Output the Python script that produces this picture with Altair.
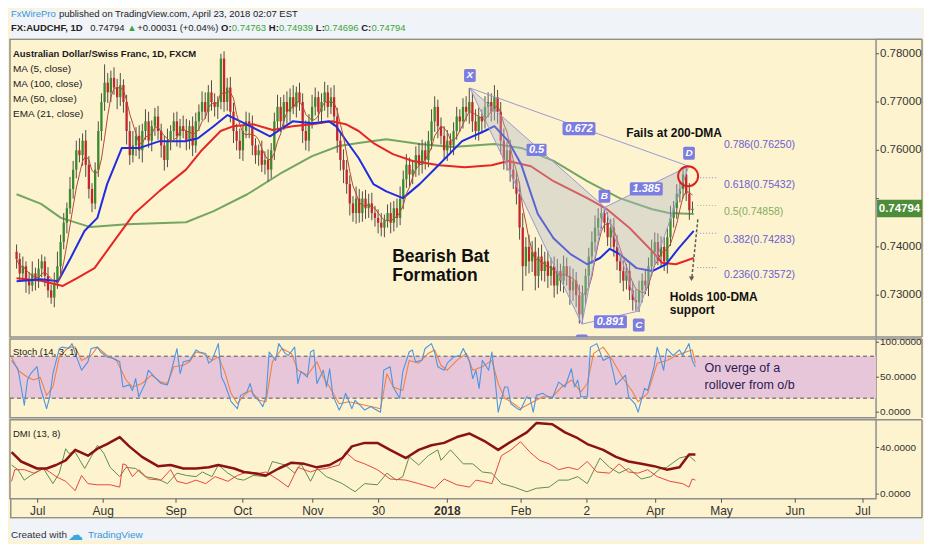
import altair as alt
import pandas as pd

# ---------------- data ----------------
# daily AUD/CHF candles, values in 1e-4 units (pips); FX daily candle opens at prior close
first_open = 7390
closes = [7375,7345,7360,7330,7320,7345,7330,7355,7370,7340,
          7310,7295,7325,7360,7410,7450,7480,7520,7560,7600,
          7590,7620,7570,7520,7490,7560,7640,7700,7740,7720,
          7750,7730,7710,7735,7700,7640,7590,7610,7630,7600,
          7640,7660,7620,7650,7670,7640,7610,7580,7620,7640,
          7660,7630,7650,7640,7620,7650,7610,7660,7680,7700,
          7680,7720,7700,7690,7700,7790,7700,7730,7680,7640,
          7620,7600,7640,7660,7650,7610,7590,7600,7570,7580,
          7560,7600,7660,7690,7660,7700,7680,7710,7690,7720,
          7700,7640,7620,7660,7690,7710,7680,7700,7720,7690,
          7710,7670,7620,7580,7560,7530,7490,7470,7500,7470,
          7500,7480,7490,7470,7460,7450,7440,7455,7470,7450,
          7480,7460,7500,7540,7570,7550,7560,7590,7570,7600,
          7580,7620,7660,7690,7650,7630,7600,7620,7610,7640,
          7670,7660,7690,7680,7700,7660,7640,7670,7660,7690,
          7700,7680,7710,7680,7620,7580,7600,7560,7540,7510,
          7440,7360,7400,7370,7390,7340,7380,7350,7370,7340,
          7360,7320,7350,7330,7360,7340,7310,7330,7300,7260,
          7300,7340,7380,7410,7440,7460,7470,7450,7420,7440,
          7400,7370,7350,7330,7350,7310,7290,7285,7310,7330,
          7320,7360,7390,7410,7380,7400,7370,7420,7460,7480,
          7510,7520,7550,7510,7476,7479]
wick_up = [15,12,20,10,18,25,12,20,14,10, 18,12,22,30,15,20,12,25,18,20,
           25,15,22,18,12,15,20,18,38,20, 15,22,18,25,12,15,20,30,18,22,
           15,25,20,12,18,22,15,20,25,12, 18,20,15,22,25,12,20,18,15,22,
           20,15,25,18,12,10,15,20,22,18, 15,25,12,20,18,22,15,12,20,18,
           22,15,18,25,20,15,22,18,25,12, 20,18,22,15,25,20,12,18,22,15,
           20,25,18,15,22,20,18,15,25,20, 15,18,20,22,15,18,20,12,18,22,
           15,20,25,18,22,15,20,18,25,22, 18,20,25,22,15,18,20,22,15,18,
           20,15,18,22,29,20,25,18,15,22, 20,18,25,15,20,25,18,22,20,18,
           25,30,20,25,22,30,18,25,20,22, 18,20,25,15,22,18,20,25,18,22,
           20,15,18,22,25,20,18,12,22,18, 20,25,18,22,15,20,18,22,20,15,
           22,18,25,20,18,22,20,18,25,15, 20,18,15,17,22,15]
wick_dn = [20,15,12,25,18,12,20,15,18,22, 15,13,20,12,18,15,22,12,20,18,
           15,22,25,20,18,12,15,20,18,22, 20,15,25,18,22,28,20,15,22,18,
           25,18,15,22,20,18,25,22,15,20, 18,22,25,15,20,18,22,15,20,18,
           15,22,18,20,25,15,20,18,22,25, 20,18,22,15,25,20,18,22,15,20,
           25,18,20,15,22,18,25,20,15,22, 18,25,20,22,15,18,20,25,18,22,
           15,20,25,22,28,20,25,18,22,20, 18,22,20,15,18,22,18,20,15,22,
           18,20,15,22,18,25,20,15,22,18, 20,15,18,22,25,18,20,22,15,20,
           18,22,15,20,25,22,18,20,25,15, 22,20,18,25,28,20,22,25,20,22,
           25,51,20,25,22,30,25,20,22,25, 20,25,18,22,25,20,30,22,25,19,
           18,20,22,15,20,18,22,20,18,22, 20,18,25,22,18,20,22,18,20,25,
           18,22,20,25,18,22,20,25,18,20, 22,18,20,15,20,6]

ema21_idx = [0,7.8,13.2,17.2,21.6,25.7,28.8,33.5,39.2,45.5,53.9,57.7,62.7,67.1,71.2,74.3,80.6,87.8,94.0,99.4,
             101.6,105.6,108.8,113.5,117.6,122.9,128.2,134.5,141.7,148.9,152.0,156.4,160.5,165.8,170.8,176.2,
             181.5,185.6,188.7,191.8,197.2,202.2,206.6,210.7,215.4]
ema21_val = [0.7329,0.7333,0.7329,0.7377,0.7433,0.7460,0.7530,0.7605,0.7605,0.7619,0.7619,0.7625,0.7650,0.7673,
             0.7660,0.7650,0.7629,0.7660,0.7656,0.7660,0.7650,0.7613,0.7584,0.7530,0.7515,0.7501,0.7530,0.7571,
             0.7619,0.7640,0.7650,0.7619,0.7571,0.7468,0.7418,0.7385,0.7364,0.7377,0.7396,0.7385,0.7356,0.7350,
             0.7364,0.7398,0.7433]
ma50_idx = [0,7.8,14.7,19.4,24.8,31.0,37.3,45.5,53.9,58.6,64.9,69.0,75.2,81.5,87.8,94.0,100.3,104.7,108.8,113.5,
            119.7,126.0,134.5,142.6,151.1,156.4,163.6,170.8,181.5,187.8,195.0,202.2,205.3,209.7,215.4]
ma50_val = [0.7335,0.7330,0.7319,0.7336,0.7356,0.7412,0.7468,0.7516,0.7560,0.7598,0.7640,0.7650,0.7654,0.7642,
            0.7650,0.7654,0.7660,0.7654,0.7640,0.7615,0.7592,0.7578,0.7569,0.7565,0.7569,0.7578,0.7567,0.7536,
            0.7501,0.7478,0.7439,0.7391,0.7367,0.7364,0.7377]
ma100_idx = [0,7.8,14.1,23.5,35.1,53.9,62.7,73.4,83.7,94.0,102.5,108.8,117.6,128.2,138.6,152.0,160.5,170.8,
             181.5,191.8,202.2,207.5,215.4]
ma100_val = [0.7509,0.7489,0.7460,0.7441,0.7447,0.7451,0.7474,0.7509,0.7551,0.7588,0.7609,0.7615,0.7623,0.7613,
             0.7607,0.7613,0.7605,0.7578,0.7536,0.7501,0.7478,0.7470,0.7468]

stk_idx = [0,2,4,5,6,8,9,11,12,13,15,16,18,19,20,22,24,25,27,28,30,32,34,35,37,38,39,40,42,43,
           45,47,49,50,52,53,54,56,58,59,61,62,63,65,66,67,69,71,72,74,75,76,78,79,80,81,83,84,86,87,
           89,90,91,93,94,95,96,98,99,100,101,103,104,105,107,108,110,111,113,114,116,117,119,120,122,123,
           125,126,127,129,130,132,133,134,136,137,139,141,142,144,145,146,147,148,150,151,152,153,155,156,
           157,159,160,162,163,164,165,167,168,170,172,174,176,177,178,179,181,182,184,186,188,189,190,193,
           194,196,197,199,200,202,203,205,206,208,210,211,213,214,215]
stk_val = [74,62,10,46,55,65,36,5,22,55,91,93,91,98,84,60,72,91,93,86,79,77,72,36,39,31,48,22,41,60,
           50,41,39,55,91,55,72,74,89,86,84,70,74,98,50,41,15,5,24,29,41,24,15,8,22,86,74,98,84,81,
           93,41,58,50,86,89,41,60,36,62,24,3,12,27,5,17,8,3,8,5,0,60,65,36,20,58,86,89,72,74,
           91,98,86,65,60,70,79,81,91,72,48,60,34,74,60,86,48,0,36,36,12,5,3,22,20,0,24,27,24,20,
           43,36,62,36,46,22,22,93,98,74,79,60,39,53,22,12,0,34,31,65,93,60,91,81,89,81,98,74,65]
std_idx = [0,2,5,7,9,11,13,15,18,20,22,25,27,30,33,36,38,41,44,47,49,51,54,56,58,60,63,65,67,69,
           71,73,75,78,80,82,85,88,90,93,96,98,100,103,106,109,113,116,118,120,123,125,128,131,133,135,
           137,140,143,145,148,151,153,155,157,160,164,167,170,173,176,179,181,183,186,189,192,195,197,200,
           203,206,209,212,214,215]
std_val = [79,60,50,46,50,24,36,79,93,93,74,81,93,81,74,46,36,41,53,43,41,65,67,72,86,84,74,79,58,27,
           12,24,31,17,15,72,91,84,60,53,72,50,36,12,15,12,8,5,55,36,31,74,70,84,89,67,60,74,84,60,
           65,74,41,20,15,5,15,22,22,36,46,29,41,84,93,74,50,31,15,27,70,74,81,86,89,70]

adx_idx = [0,3,8,11,14,17,20,24,27,30,34,37,41,46,50,54,58,62,65,70,73,76,80,84,88,92,96,100,104,107,
           111,115,119,124,128,132,136,140,144,149,153,157,162,165,170,174,178,181,186,190,194,198,202,206,
           210,213,215]
adx_val = [36,28,22,22,25,29,38,33,39,43,49,41,32,24,25,22,22,23,25,22,19,18,16,22,27,26,23,25,31,41,
           44,44,38,31,38,42,44,49,52,45,38,45,53,61,60,53,48,43,38,32,28,26,24,21,23,34,34]
pdi_idx = [0,2,4,6,8,10,13,15,17,18,20,23,25,27,29,31,34,36,39,42,46,49,52,55,58,60,63,65,68,71,
           73,76,80,82,86,89,91,94,96,99,104,108,111,115,118,121,123,125,128,131,134,135,138,142,145,148,
           151,154,158,162,165,169,172,175,178,181,185,188,191,194,198,201,204,206,210,213,215]
pdi_val = [25,21,12,16,19,22,9,18,39,35,36,22,32,42,35,23,15,23,22,15,13,9,18,16,15,19,15,25,18,13,
           12,16,15,28,25,18,26,11,22,15,9,2,9,8,18,12,15,32,25,33,38,29,38,26,26,19,18,9,6,2,
           5,6,12,12,15,9,31,23,18,22,13,15,22,23,31,33,28]
mdi_idx = [0,1,4,7,10,12,14,17,20,22,24,27,31,34,35,36,38,40,43,47,50,52,55,58,61,64,68,71,74,78,
           80,84,87,90,94,96,99,103,105,108,111,115,119,124,128,133,136,140,144,146,148,151,154,157,160,163,
           166,169,172,175,178,181,184,188,191,194,197,200,203,207,211,213,214,215]
mdi_val = [11,21,21,18,22,19,15,11,3,16,9,8,8,6,26,25,15,21,13,12,21,11,9,12,9,15,11,16,19,18,
           19,12,6,23,19,21,22,25,36,29,26,21,13,12,9,5,13,8,6,12,11,9,33,38,45,36,29,26,21,23,
           21,28,19,18,26,19,18,21,15,11,9,6,13,12]

month_ticks = [8.2, 28.8, 51.7, 72.7, 94.7, 115.4, 137, 160.2, 180.9, 202.5, 223.2, 246.4, 267.7]
month_labels = ["Jul", "Aug", "Sep", "Oct", "Nov", "30", "2018", "Feb", "2", "Apr", "May", "Jun", "Jul"]
price_ticks = [0.73, 0.74, 0.75, 0.76, 0.77, 0.78]
price_labels = ["0.73000", "0.74000", "", "0.76000", "0.77000", "0.78000"]  # 0.75000 sits under the last-price tag
stoch_ticks = [0, 50, 100]
dmi_ticks = [0, 40]

pat_names = ["X", "A", "B", "C", "D"]
pat_idx = [144.2, 179.8, 187.1, 197.8, 213.8]
pat_val = [0.7729, 0.7240, 0.7482, 0.7267, 0.7567]
pat_label_idx = [144.2, 179.8, 187.0, 197.9, 213.9]
pat_label_val = [0.7755, 0.72053, 0.7505, 0.7238, 0.7594]
ratio_text = ["0.5", "0.672", "1.385", "0.891"]
ratio_idx = [165.4, 178.9, 200.3, 188.9]
ratio_val = [0.7601, 0.7645, 0.7520, 0.7245]

fib_text = ["0.786(0.76250)", "0.618(0.75432)", "0.5(0.74858)", "0.382(0.74283)", "0.236(0.73572)"]
fib_level = [0.7625, 0.75432, 0.74858, 0.74283, 0.73572]
last_price = 0.74794

# ---------------- styling ----------------
SANS = "Liberation Sans, Arial, sans-serif"
CREAM = "#fdf3cf"
OUTER = "#f0f3f7"
FRAME = "#8e8e8e"
AXTXT = "#333333"
UP, DN = "#3c8a2e", "#c4262b"
WICK = "#4e4e48"
PURPLE = "#6a60d0"
FIBGREEN = "#84ad5e"
BOXC = "#7b7de0"
EDGE = "#9b98d8"

W, HP, HS, HD, AXW = 867, 298, 79, 79, 46

xscale = alt.Scale(domain=[-0.5, 271.8], nice=False, zero=False)
pscale = alt.Scale(domain=[0.72135, 0.7830], nice=False, zero=False)
sscale = alt.Scale(domain=[-8.1, 104.7], nice=False, zero=False)
dscale = alt.Scale(domain=[-4.0, 63.8], nice=False, zero=False)

one = pd.DataFrame({"z": [0]})

# Arial / Liberation Sans advance widths (1/1000 em) used to lay out header runs
AW = {" ": 278, ".": 278, ",": 278, ":": 278, "(": 333, ")": 333, "+": 584, "%": 889, "-": 333,
      "/": 278, "▲": 770, "A": 667, "B": 667, "C": 722, "D": 722, "E": 667, "F": 611, "H": 722,
      "L": 556, "M": 833, "O": 778, "P": 667, "S": 667, "T": 611, "U": 722, "V": 667, "W": 944,
      "X": 667, "a": 556, "b": 556, "c": 500, "d": 556, "e": 556, "f": 278, "g": 556, "h": 556,
      "i": 222, "l": 222, "m": 833, "n": 556, "o": 556, "p": 556, "r": 333, "s": 500, "t": 278,
      "u": 556, "v": 500, "w": 722, "y": 500}


def tw(s, size, bold=False):
    return sum(AW.get(ch, 556) for ch in s) / 1000.0 * size * (1.07 if bold else 1.0)


def XQ(field="i"):
    return alt.X(f"{field}:Q", scale=xscale, axis=None)


def crect(x0, x1, y0, y1, color):
    return alt.Chart(one).mark_rect(color=color).encode(
        x=alt.value(x0), x2=alt.value(x1), y=alt.value(y0), y2=alt.value(y1))


def crule(x0, x1, y0, y1, color=FRAME, w=1.5):
    # frame line drawn as a thin unstroked rect so it does not inflate the canvas bounds
    if x0 == x1:
        return crect(x0 - w / 2, x0 + w / 2, y0, y1, color)
    return crect(x0, x1, y0 - w / 2, y0 + w / 2, color)


def ctext(t, x, y, **mk):
    mk.setdefault("align", "left")
    mk.setdefault("baseline", "middle")
    mk.setdefault("font", SANS)
    return alt.Chart(one).mark_text(text=t, **mk).encode(x=alt.value(x), y=alt.value(y))


def line(idx, vals, yscale, color, width):
    d = pd.DataFrame({"i": idx, "v": vals})
    return alt.Chart(d).mark_line(color=color, strokeWidth=width, strokeJoin="round").encode(
        x=XQ(), y=alt.Y("v:Q", scale=yscale, axis=None))


def tlayer(df, yscale, **mk):
    mk.setdefault("font", SANS)
    return alt.Chart(df).mark_text(**mk).encode(
        x=XQ(), y=alt.Y("v:Q", scale=yscale, axis=None), text="t:N")


def yaxis_layers(ticks, labels, yscale, size):
    d = pd.DataFrame({"v": ticks, "t": labels})
    tk = alt.Chart(d).mark_rule(color="#555", strokeWidth=1).encode(
        x=alt.value(W), x2=alt.value(W + 3), y=alt.Y("v:Q", scale=yscale, axis=None))
    tx = alt.Chart(d[d.t != ""]).mark_text(align="left", baseline="middle", font=SANS, fontSize=size,
                                           color=AXTXT).encode(
        x=alt.value(W + 4), y=alt.Y("v:Q", scale=yscale, axis=None), text="t:N")
    return [tk, tx]


def box_path(hw, hh, r):
    return (f"M{-hw + r},{-hh} L{hw - r},{-hh} Q{hw},{-hh} {hw},{-hh + r} L{hw},{hh - r} "
            f"Q{hw},{hh} {hw - r},{hh} L{-hw + r},{hh} Q{-hw},{hh} {-hw},{hh - r} "
            f"L{-hw},{-hh + r} Q{-hw},{-hh} {-hw + r},{-hh} Z")


# ---------------- price panel ----------------
opens = [first_open] + closes[:-1]
rows = []
for k, (o, c, u, d) in enumerate(zip(opens, closes, wick_up, wick_dn)):
    rows.append(dict(i=k, open=o / 1e4, close=c / 1e4,
                     high=(max(o, c) + u) / 1e4, low=(min(o, c) - d) / 1e4,
                     dir="up" if c >= o else "down"))
candles = pd.DataFrame(rows)
ccol = alt.Color("dir:N", scale=alt.Scale(domain=["up", "down"], range=[UP, DN]), legend=None)

wicks = alt.Chart(candles).mark_rule(strokeWidth=1, color=WICK).encode(
    x=XQ(), y=alt.Y("low:Q", scale=pscale, axis=None), y2="high:Q")
bodies = alt.Chart(candles).mark_bar(size=2.3).encode(
    x=XQ(), y=alt.Y("open:Q", scale=pscale, axis=None), y2="close:Q", color=ccol)

ma5 = pd.DataFrame({"i": range(len(closes)),
                    "v": pd.Series(closes).rolling(5, min_periods=1).mean() / 1e4})
ma5_line = alt.Chart(ma5).mark_line(color="#b24a35", strokeWidth=1, strokeJoin="round").encode(
    x=XQ(), y=alt.Y("v:Q", scale=pscale, axis=None))

P = dict(zip(pat_names, zip(pat_idx, pat_val)))
poly = pd.DataFrame([dict(g=g, k=k, i=P[n][0], v=P[n][1])
                     for g, verts in [("XAB", "XABX"), ("BCD", "BCDB")] for k, n in enumerate(verts)])
tri = alt.Chart(poly).mark_line(fill="#b5b9c6", fillOpacity=0.4, stroke=EDGE, strokeWidth=1,
                                strokeJoin="round").encode(
    x=XQ(), y=alt.Y("v:Q", scale=pscale, axis=None), detail="g:N", order="k:Q")
segs = pd.DataFrame([dict(g=g, k=k, i=P[n][0], v=P[n][1])
                     for g in ["XD", "AC"] for k, n in enumerate(g)])
seg = alt.Chart(segs).mark_line(color=EDGE, strokeWidth=1, strokeJoin="round").encode(
    x=XQ(), y=alt.Y("v:Q", scale=pscale, axis=None), detail="g:N", order="k:Q")

lbl = pd.DataFrame({"t": pat_names, "i": pat_label_idx, "v": pat_label_val})
letter_box = alt.Chart(lbl).mark_point(shape=box_path(0.9, 1, 0.25), size=169, filled=True,
                                       color=BOXC, opacity=1, clip=True).encode(
    x=XQ(), y=alt.Y("v:Q", scale=pscale, axis=None))
letter_txt = tlayer(lbl, pscale, color="white", fontSize=10, fontWeight="bold",
                    fontStyle="italic", clip=True)
rat = pd.DataFrame({"t": ratio_text, "i": ratio_idx, "v": ratio_val})
ratio_wide = alt.Chart(rat[rat.t != "0.5"]).mark_point(shape=box_path(1, 0.4, 0.1), size=33 * 33,
                                                       filled=True, color=BOXC, opacity=1).encode(
    x=XQ(), y=alt.Y("v:Q", scale=pscale, axis=None))
ratio_small = alt.Chart(rat[rat.t == "0.5"]).mark_point(shape=box_path(1, 0.62, 0.15), size=20 * 20,
                                                        filled=True, color=BOXC, opacity=1).encode(
    x=XQ(), y=alt.Y("v:Q", scale=pscale, axis=None))
ratio_txt = tlayer(rat, pscale, color="white", fontSize=11, fontWeight="bold", fontStyle="italic")

fib = pd.DataFrame({"t": fib_text, "v": fib_level, "i": [225.0] * 5})
fib_green = fib["t"].str.startswith("0.5(")
fib_txt_p = tlayer(fib[~fib_green], pscale, align="left", baseline="middle", dy=7, fontSize=10.5,
                   color=PURPLE)
fib_txt_g = tlayer(fib[fib_green], pscale, align="left", baseline="middle", dy=7, fontSize=10.5,
                   color=FIBGREEN)
fib_ln = pd.DataFrame({"v": fib_level[1:], "i": [216.5] * 4, "i2": [223.2] * 4})
fib_rule_p = alt.Chart(fib_ln[fib_ln.v != 0.74858]).mark_rule(
    strokeDash=[1, 2], strokeWidth=1, color="#8f88d6").encode(
    x=XQ(), x2="i2:Q", y=alt.Y("v:Q", scale=pscale, axis=None))
fib_rule_g = alt.Chart(fib_ln[fib_ln.v == 0.74858]).mark_rule(
    strokeDash=[1, 2], strokeWidth=1, color="#9bbf7a").encode(
    x=XQ(), x2="i2:Q", y=alt.Y("v:Q", scale=pscale, axis=None))

circ = alt.Chart(pd.DataFrame({"i": [213.6], "v": [0.75465]})).mark_point(
    shape="circle", size=400, filled=False, color="#e0201b", strokeWidth=2, opacity=1).encode(
    x=XQ(), y=alt.Y("v:Q", scale=pscale, axis=None))
arrow = alt.Chart(pd.DataFrame({"i": [216.7], "i2": [214.8], "v": [0.7457], "v2": [0.73362]})).mark_rule(
    strokeDash=[3, 2], color="#5a5a5a", strokeWidth=1.5).encode(
    x=XQ(), x2="i2:Q", y=alt.Y("v:Q", scale=pscale, axis=None), y2="v2:Q")
arrow_head = alt.Chart(pd.DataFrame({"i": [214.7], "v": [0.7334]})).mark_point(
    shape="triangle-down", size=28, filled=True, color="#5a5a5a", opacity=1).encode(
    x=XQ(), y=alt.Y("v:Q", scale=pscale, axis=None))

notes_big = pd.DataFrame({"t": ["Bearish Bat", "Formation"], "i": [119.5, 119.5], "v": [0.73790, 0.73397]})
notes_big_t = tlayer(notes_big, pscale, align="left", baseline="middle", fontSize=17.5,
                     fontWeight="bold", color="#111")
notes = pd.DataFrame({"t": ["Fails at 200-DMA", "Holds 100-DMA", "support"],
                      "i": [193.9, 207.8, 207.8], "v": [0.76362, 0.72969, 0.72688]})
notes_t = tlayer(notes, pscale, align="left", baseline="middle", fontSize=12,
                 fontWeight="bold", color="#111")

last_df = pd.DataFrame({"v": [last_price], "t": ["0.74794"]})
last_box = alt.Chart(last_df).mark_point(
    shape=box_path(1, 0.39, 0.02), size=45 * 45, filled=True, color="#4d8c39", opacity=1).encode(
    x=alt.value(W + 23.5), y=alt.Y("v:Q", scale=pscale, axis=None))
last_txt = alt.Chart(last_df).mark_text(
    color="white", font=SANS, fontSize=11.5, fontWeight="bold").encode(
    x=alt.value(W + 23.5), y=alt.Y("v:Q", scale=pscale, axis=None), text="t:N")

legend_lines = ["Australian Dollar/Swiss Franc, 1D, FXCM", "MA (5, close)", "MA (100, close)",
                "MA (50, close)", "EMA (21, close)"]
legend_layers = [ctext(t, 3, 15 + 15 * k, fontSize=9.5 if k == 0 else 10,
                       fontWeight="bold" if k == 0 else "normal", color="#1a1a1a")
                 for k, t in enumerate(legend_lines)]

# header runs: (text, colour, bold, trailing gap)
GREEN_T = "#3aa53a"
DARK_T = "#222222"
HSIZE = 9.5
header_runs = [
    (-25, [("FxWirePro", "#3a97d4", False, " "),
           ("published on TradingView.com, April 23, 2018 02:07 EST", DARK_T, False, "")]),
    (-11, [("FX:AUDCHF, 1D", DARK_T, True, " "), ("0.74794", DARK_T, False, " "),
           ("▲", GREEN_T, False, " "), ("+0.00031 (+0.04%)", DARK_T, False, " "),
           ("O:", DARK_T, True, ""), ("0.74763", GREEN_T, False, " "),
           ("H:", DARK_T, True, ""), ("0.74939", GREEN_T, False, " "),
           ("L:", DARK_T, True, ""), ("0.74696", GREEN_T, False, " "),
           ("C:", DARK_T, True, ""), ("0.74794", GREEN_T, False, "")]),
]
header_layers = []
for yy, runs in header_runs:
    xx = 1.0
    for t, col, bold, gap in runs:
        header_layers.append(ctext(t, round(xx, 1), yy, fontSize=HSIZE, color=col,
                                   fontWeight="bold" if bold else "normal"))
        xx += tw(t, HSIZE, bold) + tw(gap, HSIZE)

price = alt.layer(
    crect(0, W + AXW + 0.75, -30, -1, OUTER),
    *header_layers,
    crule(W, W + AXW, 0, 0), crule(W + AXW, W + AXW, 0, HP), crule(W, W + AXW, HP, HP),
    *yaxis_layers(price_ticks, price_labels, pscale, 11.5),
    line(ma100_idx, ma100_val, pscale, "#72a662", 2),
    wicks, bodies,
    line(ma50_idx, ma50_val, pscale, "#e62626", 2),
    line(ema21_idx, ema21_val, pscale, "#1f2ce0", 2),
    ma5_line,
    tri, seg,
    ratio_wide, ratio_small, ratio_txt, letter_box, letter_txt,
    fib_rule_p, fib_rule_g, fib_txt_p, fib_txt_g, circ, arrow, arrow_head, notes_big_t, notes_t,
    last_box, last_txt,
    *legend_layers,
).properties(width=W, height=HP)

# ---------------- stochastic panel ----------------
band = alt.Chart(pd.DataFrame({"lo": [20], "hi": [80]})).mark_rect(color="#e7c6da").encode(
    x=alt.value(0), x2=alt.value(W), y=alt.Y("lo:Q", scale=sscale, axis=None), y2="hi:Q")
band_rules = alt.Chart(pd.DataFrame({"v": [20, 80]})).mark_rule(
    strokeDash=[4, 3], color="#555", strokeWidth=1).encode(
    x=alt.value(0), x2=alt.value(W), y=alt.Y("v:Q", scale=sscale, axis=None))
stoch_note = pd.DataFrame({"t": ["On verge of a", "rollover from o/b"], "i": [217.9, 217.9], "v": [63, 39]})
stoch = alt.layer(
    crule(W, W + AXW, 0, 0), crule(W + AXW, W + AXW, 0, HS),
    band, band_rules,
    *yaxis_layers(stoch_ticks, [f"{v:.4f}" for v in stoch_ticks], sscale, 10),
    line(std_idx, std_val, sscale, "#f3823f", 1.1),
    line(stk_idx, stk_val, sscale, "#4d95e0", 1.1),
    ctext("Stoch (14, 3, 1)", 3, 13, fontSize=9.5, color="#1a1a1a"),
    tlayer(stoch_note, sscale, align="left", baseline="middle", fontSize=12.5, color="#2b1a55"),
).properties(width=W, height=HS)

# ---------------- DMI panel ----------------
xt = pd.DataFrame({"i": month_ticks, "t": month_labels})
xt_norm = xt[xt.t != "2018"]
xt_bold = xt[xt.t == "2018"]
x_ticks = alt.Chart(xt).mark_rule(color="#555", strokeWidth=1).encode(
    x=XQ(), y=alt.value(HD), y2=alt.value(HD + 4))
x_lab = alt.Chart(xt_norm).mark_text(baseline="middle", font=SANS, fontSize=12, color=AXTXT).encode(
    x=XQ(), y=alt.value(HD + 12), text="t:N")
x_lab_b = alt.Chart(xt_bold).mark_text(baseline="middle", font=SANS, fontSize=12, fontWeight="bold",
                                       color=AXTXT).encode(
    x=XQ(), y=alt.value(HD + 12), text="t:N")

dmi = alt.layer(
    crule(W, W + AXW, 0, 0), crule(W + AXW, W + AXW, 0, HD + 19),
    crect(0, 1.5, HD, HD + 19, FRAME), crule(0, W + AXW, HD + 19, HD + 19),
    crect(0, W + AXW + 0.75, HD + 20, HD + 42, OUTER),
    *yaxis_layers(dmi_ticks, [f"{v:.4f}" for v in dmi_ticks], dscale, 10),
    x_ticks, x_lab, x_lab_b,
    line(pdi_idx, pdi_val, dscale, "#5f8f46", 1),
    line(mdi_idx, mdi_val, dscale, "#e8463f", 1),
    line(adx_idx, adx_val, dscale, "#8b1212", 2.5),
    ctext("DMI (13, 8)", 3, 14, fontSize=9.5, color="#1a1a1a"),
    ctext("Created with", 1, HD + 36, fontSize=10, color="#333"),
    ctext("☁", 58, HD + 36, font="DejaVu Sans", fontSize=15, color="#3aa7e0"),
    ctext("TradingView", 78, HD + 36, fontSize=10, color="#3a97d4"),
).properties(width=W, height=HD)

chart = alt.vconcat(price, stoch, dmi, spacing=2, bounds="flush").properties(
    padding=0
).configure(background=CREAM, padding=0).configure_view(stroke=FRAME, strokeWidth=1.5)

chart.save("out.html", embed_options={"renderer": "svg", "actions": False})
